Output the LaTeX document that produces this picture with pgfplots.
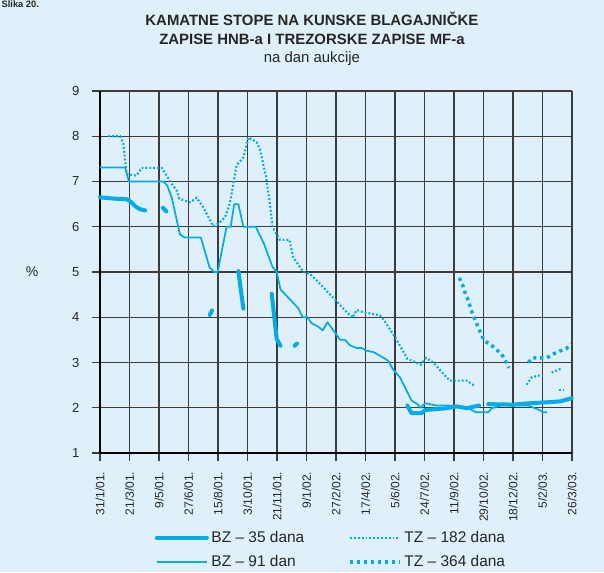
\documentclass[border=0pt]{standalone}
\usepackage{fontspec}
\setmainfont{Liberation Sans}
\usepackage{pgfplots}
\pgfplotsset{compat=1.18}

\definecolor{bgc}{RGB}{223,240,250}
\definecolor{linec}{RGB}{0,172,236}
\definecolor{gridc}{RGB}{60,60,60}

\tikzset{
  bz35/.style={linec, line width=3pt, line join=round, line cap=round},
  bz91/.style={linec, line width=1.3pt, line join=round},
  tz182/.style={linec, line width=1.6pt, dash pattern=on 1.4pt off 1.5pt},
  tz364/.style={linec, line width=2.6pt, dash pattern=on 2.4pt off 2.8pt},
}

\begin{document}
\begin{tikzpicture}
\fill[bgc] (-75pt,-89.25pt) rectangle (378pt,339.75pt);
\node[anchor=north west, font=\bfseries\fontsize{7}{8}\selectfont, inner sep=0pt, text=black!85]
  at (-74pt,339.5pt) {Slika 20.};
\begin{axis}[
  scale only axis, width=354pt, height=271.5pt,
  xmin=0, xmax=16, ymin=1, ymax=9,
  axis x line*=bottom, axis y line*=left,
  axis line style={-, black, line width=1.6pt},
  xtick={0,...,16},
  xticklabels={31/1/01.,21/3/01.,9/5/01.,27/6/01.,15/8/01.,3/10/01.,21/11/01.,9/1/02.,27/2/02.,17/4/02.,5/6/02.,24/7/02.,11/9/02.,29/10/02.,18/12/02.,5/2/03.,26/3/03.},
  ytick={1,...,9},
  /pgf/number format/assume math mode=true,
  x tick label style={yshift=-4.5pt, rotate=90, anchor=east, font=\fontsize{9}{10}\selectfont, text=black!85},
  y tick label style={xshift=-6pt, font=\fontsize{9.8}{11}\selectfont, text=black!85},
  tick align=outside, major tick length=6pt,
  tick style={gridc, line width=0.9pt},
  grid=major, major grid style={gridc, line width=0.9pt},
  clip=false,
  legend columns=2,
  legend cell align=left,
  legend image code/.code={\draw[#1] (0pt,0pt) -- (37.5pt,0pt);},
  legend style={at={(0.49,-0.2)}, anchor=north, draw=none, fill=none,
    font=\fontsize{11.6}{13}\selectfont, text=black!85, row sep=4.5pt,
    /tikz/every even column/.append style={column sep=31pt}},
]
% BZ - 35 dana
\addplot[bz35] coordinates {(0,6.65) (0.5,6.62) (0.9,6.61) (1.05,6.55) (1.2,6.45) (1.35,6.39) (1.53,6.36)};
\addlegendentry{BZ -- 35 dana}
\addlegendimage{tz182}
\addlegendentry{TZ -- 182 dana}
\addlegendimage{bz91}
\addlegendentry{BZ -- 91 dan}
\addlegendimage{tz364}
\addlegendentry{TZ -- 364 dana}
\addplot[bz35, forget plot] coordinates {(2.13,6.42) (2.25,6.34)};
\addplot[bz35, forget plot] coordinates {(3.72,4.05) (3.8,4.15)};
\addplot[bz35, forget plot] coordinates {(4.69,5.02) (4.86,4.19)};
\addplot[bz35, forget plot] coordinates {(5.82,4.52) (5.99,3.52) (6.12,3.37)};
\addplot[bz35, forget plot] coordinates {(6.6,3.37) (6.68,3.42)};
\addplot[bz35, forget plot] coordinates {(10.42,2.05) (10.56,1.88) (10.9,1.88) (11.02,1.95) (11.41,1.97) (11.75,1.99) (12.09,2.03) (12.43,1.99) (12.85,2.05)};
\addplot[bz35, forget plot] coordinates {(13.16,2.08) (14.0,2.07) (14.58,2.1) (15.14,2.12) (15.59,2.14) (15.99,2.21)};
% BZ - 91 dan
\addplot[bz91, forget plot] coordinates {
(0,7.31) (0.85,7.31) (0.98,7.0) (2.15,7.0) (2.28,6.91) (2.43,6.65) (2.71,5.83) (2.88,5.76)
(3.42,5.76) (3.71,5.11) (3.86,5.0) (3.99,5.0) (4.29,6.0) (4.43,6.0) (4.55,6.5) (4.69,6.5)
(4.86,6.0) (5.28,6.0) (5.56,5.62) (5.85,5.11) (5.99,5.0) (6.12,4.61) (6.42,4.41) (6.72,4.2)
(6.87,4.0) (7.03,4.0) (7.17,3.87) (7.4,3.79) (7.55,3.71) (7.71,3.89) (8.0,3.63) (8.14,3.5)
(8.31,3.5) (8.47,3.38) (8.7,3.32) (8.87,3.32) (9.04,3.26) (9.27,3.23) (9.49,3.15) (9.77,3.04)
(9.94,2.84) (10.17,2.67) (10.34,2.45) (10.56,2.16) (10.76,2.08) (10.87,2.0) (11.02,2.1)
(11.4,2.05) (11.8,2.05) (12.2,2.02) (12.54,1.97) (12.75,1.9) (13.16,1.9) (13.28,1.99)
(13.6,2.05) (14.0,2.05) (14.52,2.05) (14.89,1.95) (15.03,1.9) (15.16,1.9)};
% TZ - 182 dana
\addplot[tz182, forget plot] coordinates {
(0.28,8.0) (0.68,8.0) (0.79,7.84) (0.9,7.17) (1.24,7.13) (1.41,7.3) (2.09,7.3) (2.26,7.13)
(2.43,6.95) (2.6,6.8) (2.69,6.62) (3.05,6.54) (3.28,6.64) (3.5,6.43) (3.84,6.01) (4.01,6.07)
(4.24,6.21) (4.41,6.54) (4.63,7.36) (4.86,7.53) (5.03,7.97) (5.31,7.87) (5.42,7.72) (5.63,7.1)
(5.76,6.51) (5.85,5.99) (6.1,5.71) (6.42,5.71) (6.55,5.33) (6.89,5.0) (7.12,4.96) (7.57,4.66)
(8.02,4.35) (8.31,4.15) (8.56,3.99) (8.7,4.16) (8.93,4.11) (9.49,4.04) (9.6,3.96) (10.0,3.56)
(10.23,3.3) (10.42,3.08) (10.73,3.0) (10.87,2.95) (11.05,3.1) (11.3,3.0) (11.64,2.75)
(11.86,2.6) (12.43,2.6) (12.68,2.49)};
\addplot[tz182, forget plot] coordinates {(14.46,2.51) (14.63,2.67) (14.86,2.71) (15.0,2.71)};
\addplot[tz182, forget plot] coordinates {(15.31,2.78) (15.62,2.86)};
\addplot[tz182, forget plot] coordinates {(15.55,2.4) (15.7,2.4)};
% TZ - 364 dana
\addplot[tz364, forget plot] coordinates {
(12.18,4.87) (12.29,4.72) (12.37,4.55) (12.46,4.41) (12.62,4.09) (12.82,3.78) (13.02,3.48)
(13.24,3.4) (13.62,3.18) (13.75,3.03) (13.86,2.88)};
\addplot[tz364, forget plot] coordinates {
(14.52,3.0) (14.66,3.1) (15.14,3.1) (15.34,3.18) (15.57,3.25) (15.8,3.3) (15.96,3.41)};
% titles
\node[font=\bfseries\fontsize{11.2}{13}\selectfont, text=black!85] at (rel axis cs:0.449,1) [yshift=54pt] {KAMATNE STOPE NA KUNSKE BLAGAJNIČKE};
\node[font=\bfseries\fontsize{11.2}{13}\selectfont, text=black!85] at (rel axis cs:0.449,1) [yshift=39pt] {ZAPISE HNB-a I TREZORSKE ZAPISE MF-a};
\node[font=\fontsize{11.2}{13}\selectfont, text=black!85] at (rel axis cs:0.449,1) [yshift=24pt] {na dan aukcije};
\node[font=\fontsize{10.5}{12}\selectfont, text=black!85] at (rel axis cs:0,0.5) [xshift=-51pt] {\%};
\end{axis}
\pgfresetboundingbox
\path (-75pt,-89.25pt) rectangle (378pt,339.75pt);
\end{tikzpicture}
\end{document}
